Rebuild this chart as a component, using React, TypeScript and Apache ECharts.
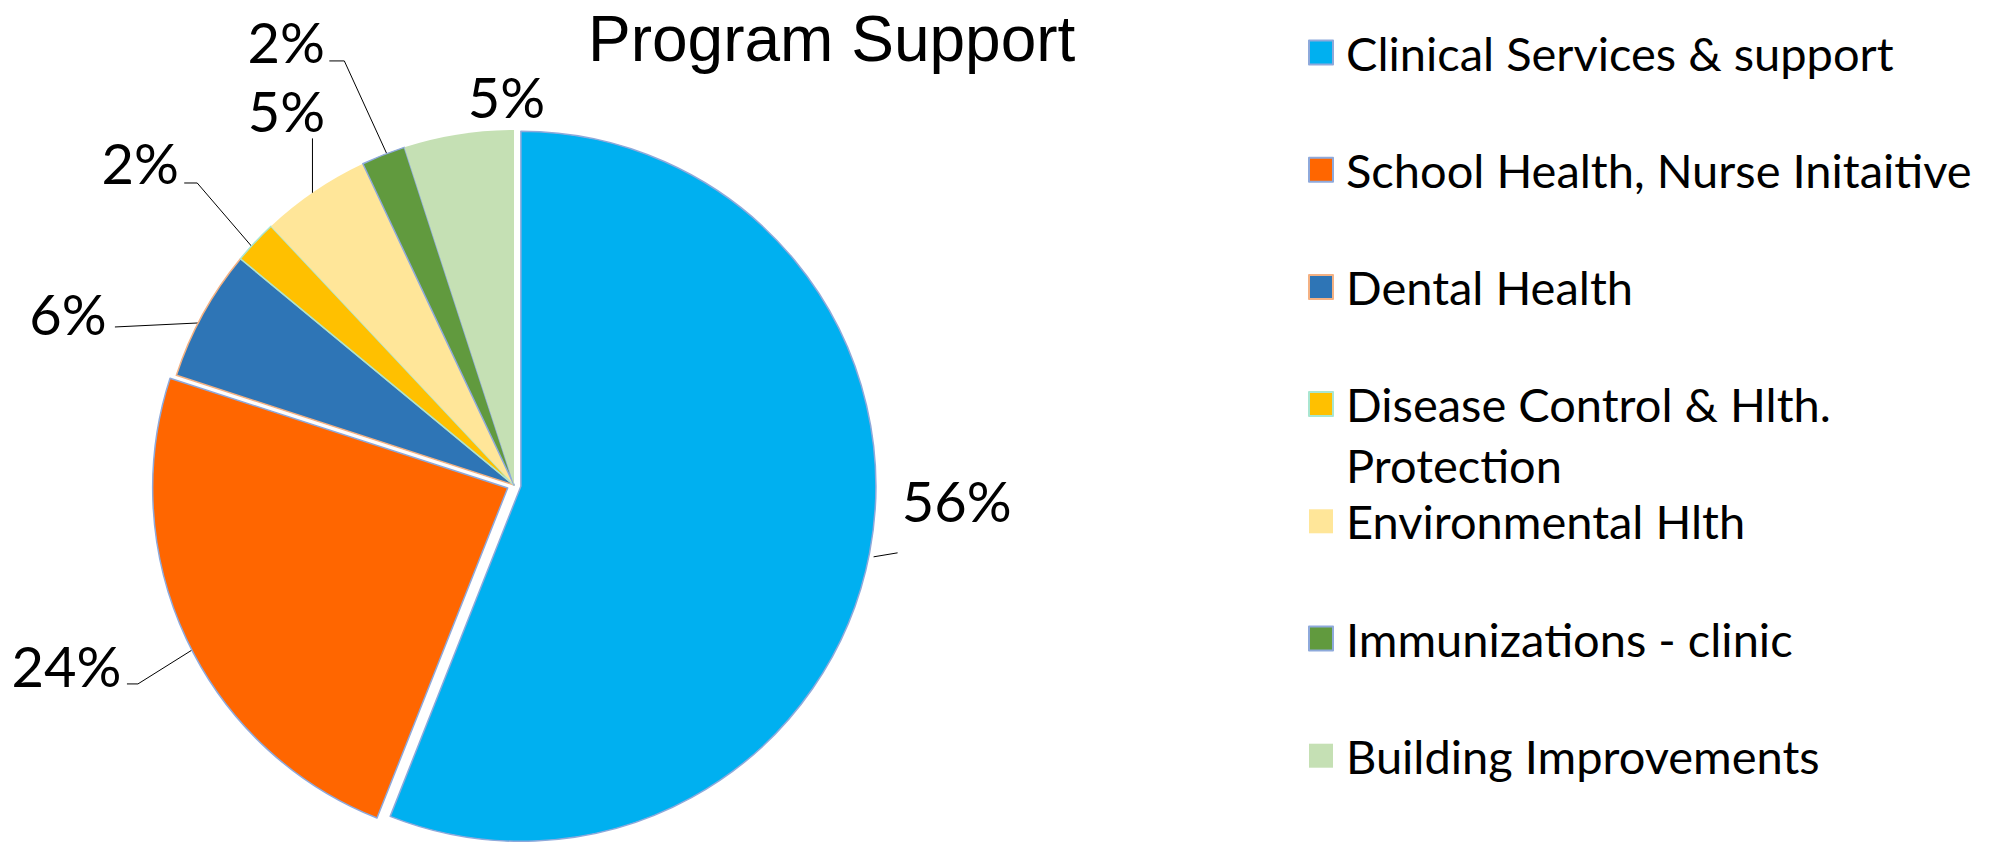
import React, { useEffect, useRef } from "react";
import * as echarts from "echarts";

const titleText = "Program Support";
const categories = [
  "Clinical Services & support",
  "School Health, Nurse Initaitive",
  "Dental Health",
  "Disease Control & Hlth. Protection",
  "Environmental Hlth",
  "Immunizations - clinic",
  "Building Improvements",
];
const values = [56, 24, 6, 2, 5, 2, 5];
const exploded = [true, true, false, false, false, false, false];

const colors = ["#00B0F0", "#FF6600", "#2E75B6", "#FFC000", "#FFE699", "#619A3E", "#C5E0B4"];
const borderColors = ["#8EA9DB", "#8EA9DB", "#F4B183", "#A9E6D1", "", "#8EA9DB", ""];

// leader line points, relative to the anchor point on the slice edge
const leaderOffsets: number[][][] = [
  [[4, 4], [28, 0]],
  [[7, 10], [-48.5, 44.8], [-59.5, 44.8]],
  [[-5, 9], [-88, 13]],
  [[-3, 5], [-58, -59], [-71, -59]],
  [[-2, 3], [-2, -53]],
  [[4, 0], [-39, -94], [-54, -94]],
  [[0, 0], [0, 0]],
];
// label centre, relative to the anchor point on the slice edge
const labelOffsets = [
  [87, -52],
  [-120, 26],
  [-135, 0],
  [-115, -79],
  [-28, -81],
  [-97, -113],
  [48, -38],
];

const LEGEND_LEFT = 1308;
const LEGEND_TOP = 22;
const ROW_PITCH = 117.2;
const LINE_H = 61;
const WRAPPED_INDEX = 3; // legend entry that wraps onto a second line

export default function App() {
  const ref = useRef<HTMLDivElement>(null);
  useEffect(() => {
    if (!ref.current) return;
    const chart = echarts.init(ref.current, null, { renderer: "svg" });
    const data = categories.map((name, i) => ({
      name,
      value: values[i],
      selected: exploded[i],
      itemStyle: {
        color: colors[i],
        borderColor: borderColors[i] || colors[i],
        borderWidth: borderColors[i] ? 1.5 : 0,
      },
    }));
    const legendText = {
      fontFamily: "Lato",
      fontSize: 47,
      color: "#000",
      lineHeight: LINE_H,
      width: 640,
      overflow: "break",
      padding: [0, 0, 0, 8],
    };
    const legendBase = {
      orient: "vertical",
      left: LEGEND_LEFT,
      padding: 0,
      itemWidth: 24,
      itemHeight: 24,
      itemGap: ROW_PITCH - LINE_H,
      icon: "rect",
      selectedMode: false,
      textStyle: legendText,
    };
    // the wrapped entry: an empty line above keeps its first line level with its marker
    const wrappedIconCenter = LEGEND_TOP + LINE_H / 2 + WRAPPED_INDEX * ROW_PITCH;
    chart.setOption({
      animation: false,
      backgroundColor: "#ffffff",
      title: {
        text: titleText,
        left: 588,
        top: 7,
        padding: 0,
        textStyle: {
          fontFamily: "Liberation Sans",
          fontSize: 64,
          fontWeight: "normal",
          color: "#000",
        },
      },
      legend: [
        {
          ...legendBase,
          top: LEGEND_TOP,
          data: categories.slice(0, WRAPPED_INDEX),
        },
        {
          ...legendBase,
          top: wrappedIconCenter - 12 - (3 * LINE_H) / 2 + 12,
          data: [categories[WRAPPED_INDEX]],
          formatter: (name: string) => "\n" + name,
        },
        {
          ...legendBase,
          top: LEGEND_TOP + (WRAPPED_INDEX + 1) * ROW_PITCH,
          data: categories.slice(WRAPPED_INDEX + 1),
        },
      ],
      series: [
        {
          type: "pie",
          center: [514, 485],
          radius: 355,
          startAngle: 90,
          clockwise: true,
          selectedMode: "multiple",
          selectedOffset: 7,
          avoidLabelOverlap: false,
          emphasis: { disabled: true },
          label: {
            show: true,
            position: "outside",
            fontFamily: "Lato",
            fontSize: 56,
            color: "#000",
            formatter: (p: any) => Math.round(p.percent) + "%",
          },
          labelLine: {
            show: true,
            length: 10,
            length2: 10,
            smooth: false,
            lineStyle: { color: "#000", width: 1 },
          },
          labelLayout: (p: any) => {
            const pts = p.labelLinePoints;
            if (!pts) return {};
            const [ax, ay] = pts[0];
            const i = p.dataIndex;
            const line = leaderOffsets[i].map(([dx, dy]) => [ax + dx, ay + dy]);
            const r = p.labelRect;
            return {
              dx: ax + labelOffsets[i][0] - (r.x + r.width / 2),
              dy: ay + labelOffsets[i][1] - (r.y + r.height / 2),
              labelLinePoints: line,
            };
          },
          data,
        },
      ],
    });
    return () => chart.dispose();
  }, []);
  return (
    <div
      ref={ref}
      style={{ position: "absolute", left: 0, top: 0, width: 1997, height: 844 }}
    />
  );
}
